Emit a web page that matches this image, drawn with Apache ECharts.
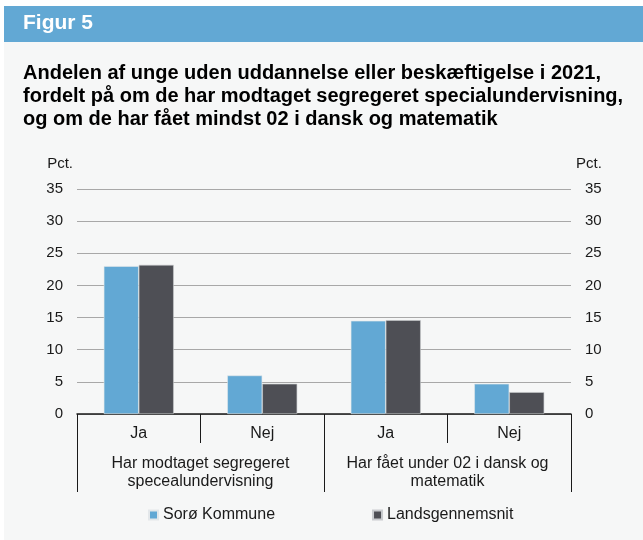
<!DOCTYPE html>
<html>
<head>
<meta charset="utf-8">
<script src="https://cdn.jsdelivr.net/npm/echarts@6/dist/echarts.min.js"></script>
<style>
  html, body { margin: 0; padding: 0; background: #ffffff; }
  #chart { width: 643px; height: 540px; }
</style>
</head>
<body>
<div id="chart"></div>
<script>
// Inner categories (answer) and outer groups (question)
const categories = ['Ja', 'Nej', 'Ja', 'Nej'];
const groups = [
  'Har modtaget segregeret\nspecealundervisning',
  'Har fået under 02 i dansk og\nmatematik'
];
const seriesNames = ['Sorø Kommune', 'Landsgennemsnit'];
// Share (pct.) of young people without education or employment, 2021
const soroeValues = [23.0, 6.0, 14.5, 4.7];
const nationalValues = [23.2, 4.7, 14.6, 3.4];
const yTicks = { min: 0, max: 35, interval: 5 };

const FONT = '"Liberation Sans", Arial, Helvetica, sans-serif';
const BLUE = '#62a8d4';
const DARK = '#4e4f55';
const TEXT = '#1a1a1a';

const chart = echarts.init(document.getElementById('chart'), null, { renderer: 'canvas' });

const valueAxisBase = {
  type: 'value',
  min: yTicks.min,
  max: yTicks.max,
  interval: yTicks.interval,
  axisLine: { show: false },
  axisTick: { show: false },
  axisLabel: { color: TEXT, fontSize: 15, fontFamily: FONT, margin: 14 },
  name: 'Pct.',
  nameLocation: 'end',
  nameGap: 18
};

chart.setOption({
  backgroundColor: '#ffffff',
  animation: false,
  textStyle: { fontFamily: FONT },
  graphic: [
    { type: 'rect', silent: true, z: -10, shape: { x: 4, y: 42, width: 639, height: 498 }, style: { fill: '#f6f7f7' } },
    { type: 'rect', silent: true, z: -9, shape: { x: 4, y: 6, width: 639, height: 36 }, style: { fill: BLUE } },
    {
      type: 'text', x: 23, y: 23, silent: true,
      style: { text: 'Figur 5', fill: '#ffffff', font: 'bold 21px ' + FONT, verticalAlign: 'middle' }
    },
    {
      type: 'text', x: 23, y: 62, silent: true,
      style: {
        text: 'Andelen af unge uden uddannelse eller beskæftigelse i 2021,\n' +
              'fordelt på om de har modtaget segregeret specialundervisning,\n' +
              'og om de har fået mindst 02 i dansk og matematik',
        fill: '#000000', font: 'bold 20px ' + FONT, lineHeight: 23, verticalAlign: 'top'
      }
    }
  ],
  grid: { left: 77, right: 72, top: 189, bottom: 126, containLabel: false },
  legend: {
    data: seriesNames,
    left: 148,
    top: 507,
    padding: 0,
    icon: 'rect',
    itemWidth: 9,
    itemHeight: 9,
    itemGap: 97,
    textStyle: { color: TEXT, fontSize: 16, fontFamily: FONT }
  },
  xAxis: [
    {
      type: 'category',
      data: categories,
      position: 'bottom',
      axisLine: { show: true, lineStyle: { color: '#1a1a1a', width: 1.5 } },
      axisTick: { show: true, interval: 0, length: 29, lineStyle: { color: '#1a1a1a', width: 1 } },
      axisLabel: { color: TEXT, fontSize: 16, fontFamily: FONT, margin: 12, interval: 0 }
    },
    {
      type: 'category',
      data: groups,
      position: 'bottom',
      offset: 0,
      axisLine: { show: false },
      axisTick: { show: true, interval: 0, length: 78, lineStyle: { color: '#1a1a1a', width: 1 } },
      axisLabel: { color: TEXT, fontSize: 16, fontFamily: FONT, margin: 40, lineHeight: 18.5, interval: 0, align: 'center' }
    }
  ],
  yAxis: [
    Object.assign({}, valueAxisBase, {
      position: 'left',
      splitLine: { show: true, lineStyle: { color: '#a8a8a8', width: 1 } },
      nameTextStyle: { color: TEXT, fontSize: 15, fontFamily: FONT, align: 'right', padding: [0, 4, 0, 0] }
    }),
    Object.assign({}, valueAxisBase, {
      position: 'right',
      splitLine: { show: false },
      nameTextStyle: { color: TEXT, fontSize: 15, fontFamily: FONT, align: 'left', padding: [0, 0, 0, 5] }
    })
  ],
  series: [
    {
      name: seriesNames[0],
      type: 'bar',
      xAxisIndex: 0,
      yAxisIndex: 0,
      data: soroeValues,
      barWidth: 35,
      barGap: '0%',
      itemStyle: { color: BLUE, borderColor: '#e3e7ea', borderWidth: 0.6 }
    },
    {
      name: seriesNames[1],
      type: 'bar',
      xAxisIndex: 0,
      yAxisIndex: 0,
      data: nationalValues,
      barWidth: 35,
      barGap: '0%',
      itemStyle: { color: DARK, borderColor: '#c9cccf', borderWidth: 0.6 }
    }
  ]
});
</script>
</body>
</html>
